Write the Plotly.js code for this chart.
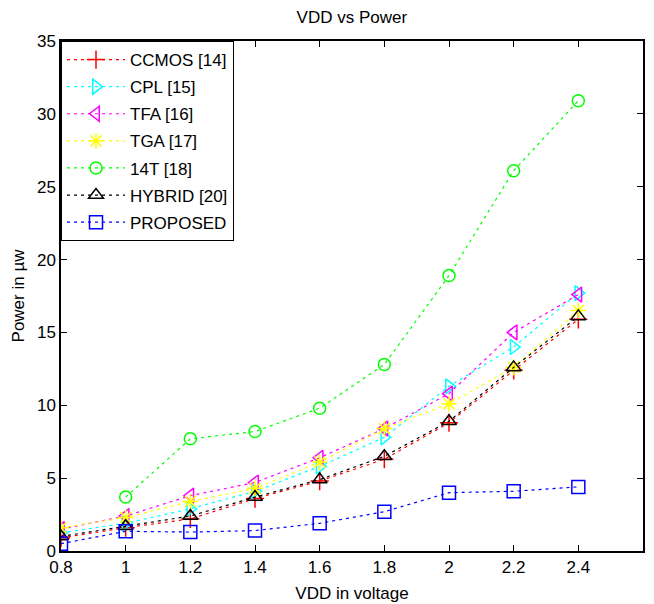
<!DOCTYPE html>
<html>
<head>
<meta charset="utf-8">
<script src="https://cdn.plot.ly/plotly-3.0.1.min.js"></script>
<style>html,body{margin:0;padding:0;background:#fff;}#chart{width:654px;height:604px;}</style>
</head>
<body>
<div id="chart"></div>
<script>
const vdd = [0.8, 1.0, 1.2, 1.4, 1.6, 1.8, 2.0, 2.2, 2.4];
const vdd14T = [1.0, 1.2, 1.4, 1.6, 1.8, 2.0, 2.2, 2.4];
const ccmos = [0.9, 1.6, 2.2, 3.6, 4.8, 6.3, 8.8, 12.4, 15.9];
const cpl = [1.25, 1.9, 2.9, 4.1, 5.8, 7.8, 11.3, 14.0, 17.7];
const tfa = [1.5, 2.4, 3.8, 4.7, 6.4, 8.4, 10.8, 15.0, 17.6];
const tga = [1.6, 2.3, 3.4, 4.3, 6.1, 8.4, 10.1, 12.6, 16.5];
const t14 = [3.7, 7.7, 8.2, 9.8, 12.8, 18.9, 26.1, 30.9];
const hybrid = [1.0, 1.7, 2.4, 3.7, 4.9, 6.5, 8.9, 12.6, 16.1];
const proposed = [0.5, 1.35, 1.3, 1.4, 1.9, 2.7, 4.0, 4.1, 4.4];
const names = ['CCMOS [14]', 'CPL [15]', 'TFA [16]', 'TGA [17]', '14T [18]', 'HYBRID [20]', 'PROPOSED'];

const specs = [
  {x: vdd, y: ccmos, color: '#ff0000', symbol: 'cross-thin-open', size: 13},
  {x: vdd, y: cpl, color: '#00ffff', symbol: 'triangle-right-open', size: 13},
  {x: vdd, y: tfa, color: '#ff00ff', symbol: 'triangle-left-open', size: 13},
  {x: vdd, y: tga, color: '#ffff00', symbol: 'asterisk-open', size: 13},
  {x: vdd14T, y: t14, color: '#00ff00', symbol: 'circle-open', size: 12},
  {x: vdd, y: hybrid, color: '#000000', symbol: 'triangle-up-open', size: 13},
  {x: vdd, y: proposed, color: '#0000ff', symbol: 'square-open', size: 13}
];

const font = {family: 'Liberation Sans, Arial, sans-serif', size: 17, color: '#000'};

const traces = specs.map((s, i) => ({
  type: 'scatter', mode: 'lines+markers', name: names[i],
  x: s.x, y: s.y, legendgroup: 'g' + i,
  line: {color: s.color, width: 1.2, dash: '3px,4px'},
  marker: {symbol: s.symbol, size: s.size, color: s.color, line: {color: s.color, width: 1.5}}
}));

const layout = {
  width: 654, height: 604,
  margin: {l: 61, r: 11, t: 41, b: 53},
  paper_bgcolor: '#fff', plot_bgcolor: '#fff',
  font: font,
  title: {text: 'VDD vs Power', font: font, x: 0.538, xanchor: 'center', y: 0.972, yanchor: 'middle', yref: 'container'},
  showlegend: true,
  legend: {x: 0, y: 1, xanchor: 'left', yanchor: 'top', bgcolor: '#fff', bordercolor: '#000', borderwidth: 1,
           font: font, itemwidth: 58, entrywidth: 172, traceorder: 'grouped', tracegroupgap: 2},
  xaxis: {range: [0.8, 2.6], dtick: 0.2, tick0: 0.8, ticks: 'inside', ticklen: 6, tickcolor: '#000',
          showline: true, linecolor: '#000', linewidth: 1.5, mirror: 'ticks', showgrid: false, zeroline: false,
          tickfont: font, title: {text: 'VDD in voltage', font: font, standoff: 11}},
  yaxis: {range: [0, 35], dtick: 5, ticks: 'inside', ticklen: 6, tickcolor: '#000',
          showline: true, linecolor: '#000', linewidth: 1.5, mirror: 'ticks', showgrid: false, zeroline: false,
          tickfont: font, title: {text: 'Power in µw', font: font, standoff: 8}}
};

Plotly.newPlot('chart', traces, layout, {displayModeBar: false});
</script>
</body>
</html>
